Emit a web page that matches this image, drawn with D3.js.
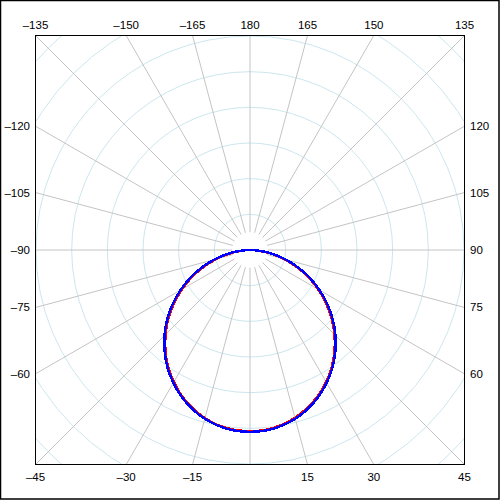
<!DOCTYPE html>
<html>
<head>
<meta charset="utf-8">
<script src="https://cdn.jsdelivr.net/npm/d3@7"></script>
<style>
  html, body { margin: 0; padding: 0; background: #fff; }
  svg { display: block; }
  text { font-family: "Liberation Sans", Arial, sans-serif; font-size: 11.5px; fill: #000; }
</style>
</head>
<body>
<svg id="chart" width="500" height="500"></svg>
<script>
// ---- data ----
const angles = [-90,-85,-80,-75,-70,-65,-60,-55,-50,-45,-40,-35,-30,-25,-20,-15,-10,-5,0,5,10,15,20,25,30,35,40,45,50,55,60,65,70,75,80,85,90];
const seriesBlue = [0,0.29,0.65,1.04,1.44,1.85,2.25,2.65,3.03,3.39,3.72,4.03,4.30,4.54,4.74,4.90,5.01,5.08,5.10,5.08,5.01,4.90,4.74,4.54,4.30,4.03,3.72,3.39,3.03,2.65,2.25,1.85,1.44,1.04,0.65,0.29,0];
const seriesRed  = [0,0.25,0.60,0.98,1.38,1.80,2.20,2.60,2.99,3.35,3.69,4.00,4.27,4.52,4.72,4.88,5.00,5.06,5.08,5.06,4.99,4.87,4.71,4.51,4.27,4.00,3.69,3.35,2.99,2.60,2.21,1.81,1.40,1.00,0.62,0.26,0];
const ringValues = [1,2,3,4,5,6,7,8];
const spokeAngles = [-165,-150,-135,-120,-105,-90,-75,-60,-45,-30,-15,0,15,30,45,60,75,90,105,120,135,150,165,180];
const topLabels = [-135,-150,-165,180,165,150,135];
const bottomLabels = [-45,-30,-15,15,30,45];
const leftLabels = [-120,-105,-90,-75,-60];
const rightLabels = [120,105,90,75,60];

// ---- layout ----
const svg = d3.select("#chart");
const cx = 250, cy = 250, half = 214.5;
const rScale = d3.scaleLinear().domain([0, 6]).range([0, 214]);
const rad = d => d * Math.PI / 180;
const px = (deg, r) => cx + r * Math.sin(rad(deg));
const py = (deg, r) => cy + r * Math.cos(rad(deg));
const edgeDist = deg => half / Math.max(Math.abs(Math.sin(rad(deg))), Math.abs(Math.cos(rad(deg))));

svg.append("rect").attr("x", 0.5).attr("y", 0.5).attr("width", 498.5).attr("height", 498.5)
  .attr("fill", "#fff").attr("stroke", "#000").attr("stroke-width", 1.5);

svg.append("defs").append("clipPath").attr("id", "plotclip")
  .append("rect").attr("x", cx - half).attr("y", cy - half).attr("width", 2 * half).attr("height", 2 * half);

const grid = svg.append("g").attr("clip-path", "url(#plotclip)");

grid.selectAll("circle.ring").data(ringValues).join("circle")
  .attr("class", "ring")
  .attr("cx", cx).attr("cy", cy).attr("r", d => rScale(d))
  .attr("fill", "none").attr("stroke", "#cce6ee").attr("stroke-width", 1);

grid.selectAll("line.spoke").data(spokeAngles).join("line")
  .attr("class", "spoke")
  .attr("x1", d => px(d, rScale(0.5))).attr("y1", d => py(d, rScale(0.5)))
  .attr("x2", d => px(d, edgeDist(d))).attr("y2", d => py(d, edgeDist(d)))
  .attr("stroke", "#c4c4c4").attr("stroke-width", 1);

// curves
const radial = d3.lineRadial()
  .angle(d => Math.PI - rad(d[0]))
  .radius(d => rScale(d[1]))
  .curve(d3.curveCardinal);

const plot = svg.append("g").attr("transform", `translate(${cx},${cy})`);
plot.append("path").datum(angles.map((a, i) => [a, seriesRed[i]]))
  .attr("d", radial).attr("fill", "none").attr("stroke", "#ff0000").attr("stroke-width", 2.5)
  .attr("shape-rendering", "crispEdges");
plot.append("path").datum(angles.map((a, i) => [a, seriesBlue[i]]))
  .attr("d", radial).attr("fill", "none").attr("stroke", "#0000ff").attr("stroke-width", 2.5)
  .attr("shape-rendering", "crispEdges");

// frame
svg.append("rect").attr("x", cx - half).attr("y", cy - half).attr("width", 2 * half).attr("height", 2 * half)
  .attr("fill", "none").attr("stroke", "#000").attr("stroke-width", 1);

const fmt = v => (v < 0 ? "\u2013" + Math.abs(v) : String(v));

svg.selectAll("text.top").data(topLabels).join("text")
  .attr("class", "top").attr("text-anchor", "middle")
  .attr("x", d => px(d, edgeDist(d))).attr("y", 29).text(fmt);
svg.selectAll("text.bottom").data(bottomLabels).join("text")
  .attr("class", "bottom").attr("text-anchor", "middle")
  .attr("x", d => px(d, edgeDist(d))).attr("y", 481).text(fmt);
svg.selectAll("text.left").data(leftLabels).join("text")
  .attr("class", "left").attr("text-anchor", "end")
  .attr("x", 30).attr("y", d => py(d, edgeDist(d)) + 4).text(fmt);
svg.selectAll("text.right").data(rightLabels).join("text")
  .attr("class", "right").attr("text-anchor", "start")
  .attr("x", 470).attr("y", d => py(d, edgeDist(d)) + 4).text(fmt);
</script>
</body>
</html>
